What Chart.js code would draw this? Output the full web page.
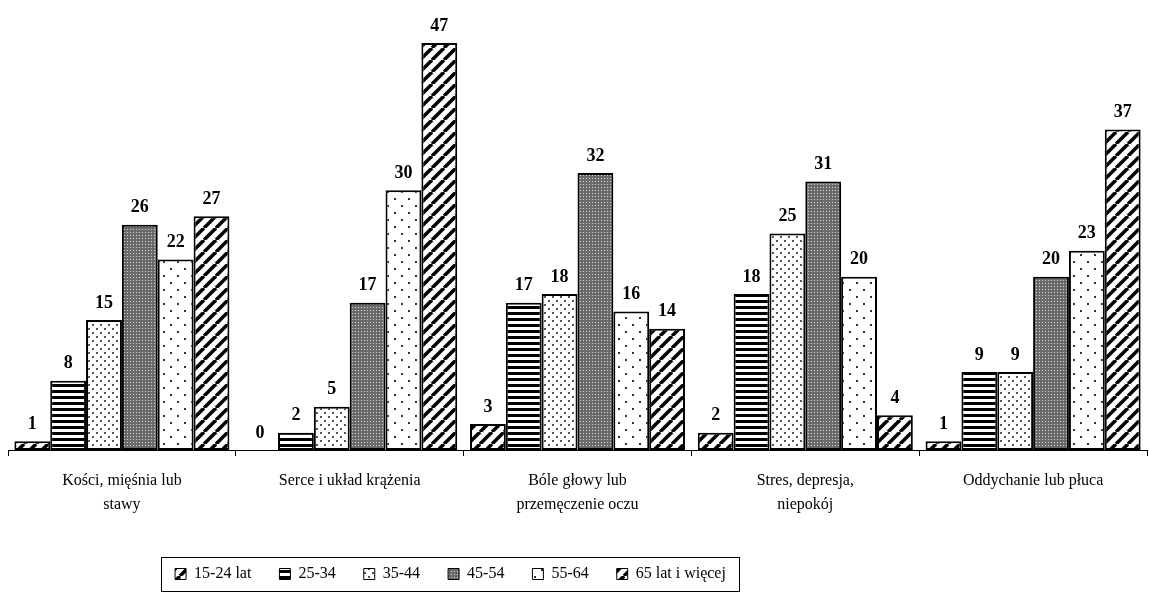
<!DOCTYPE html>
<html>
<head>
<meta charset="utf-8">
<script src="https://cdn.jsdelivr.net/npm/chart.js@4"></script>
<style>
  body { margin: 0; background: #fff; }
  #wrap { width: 1149px; height: 595px; position: relative; }
</style>
</head>
<body>
<div id="wrap"><canvas id="chart"></canvas></div>
<script>
// categories and series
const categories = [
    ['Kości, mięśnia lub', 'stawy'],
    'Serce i układ krążenia',
    ['Bóle głowy lub', 'przemęczenie oczu'],
    ['Stres, depresja,', 'niepokój'],
    'Oddychanie lub płuca'
];
const seriesNames = ['15-24 lat', '25-34', '35-44', '45-54', '55-64', '65 lat i więcej'];
const age15to24 = [1, 0, 3, 2, 1];
const age25to34 = [8, 2, 17, 18, 9];
const age35to44 = [15, 5, 18, 25, 9];
const age45to54 = [26, 17, 32, 31, 20];
const age55to64 = [22, 30, 16, 20, 23];
const age65plus = [27, 47, 14, 4, 37];

const FONT = "'Liberation Serif', 'Times New Roman', serif";
Chart.defaults.font.family = FONT;
Chart.defaults.color = '#000';

function makeTile(size, paint) {
    const c = document.createElement('canvas');
    c.width = size; c.height = size;
    const g = c.getContext('2d');
    g.fillStyle = '#fff';
    g.fillRect(0, 0, size, size);
    paint(g, size);
    return document.getElementById('chart').getContext('2d').createPattern(c, 'repeat');
}

function diagonalPattern() {
    return makeTile(12, function(g, s) {
        g.strokeStyle = '#000';
        g.lineWidth = 3.5;
        for (let k = -1; k <= 1; k++) {
            g.beginPath();
            g.moveTo(k * s, s);
            g.lineTo(k * s + s, 0);
            g.stroke();
        }
    });
}

function horizontalPattern() {
    return makeTile(6, function(g, s) {
        g.fillStyle = '#000';
        g.fillRect(0, 0, s, 3);
    });
}

function smallDotsPattern() {
    return makeTile(8, function(g) {
        g.fillStyle = '#555';
        g.fillRect(0, 0, 2, 2);
        g.fillRect(4, 4, 2, 2);
    });
}

function meshPattern() {
    return makeTile(3, function(g) {
        g.fillStyle = '#6a6a6a';
        g.fillRect(0, 0, 3, 3);
        g.fillStyle = '#d8d8d8';
        g.fillRect(1, 1, 1, 1);
    });
}

function sparseDotsPattern() {
    return makeTile(14, function(g) {
        g.fillStyle = '#333';
        g.fillRect(2, 2, 2, 2);
        g.fillRect(9, 9, 2, 2);
    });
}

const fills = [diagonalPattern(), horizontalPattern(), smallDotsPattern(), meshPattern(), sparseDotsPattern(), diagonalPattern()];
const values = [age15to24, age25to34, age35to44, age45to54, age55to64, age65plus];

const datasets = seriesNames.map(function(name, i) {
    return {
        label: name,
        data: values[i],
        backgroundColor: fills[i],
        borderColor: '#000',
        borderWidth: 2,
        borderSkipped: false,
        categoryPercentage: 0.944,
        barPercentage: 1.0
    };
});

// numbers above the bars
const valueLabels = {
    id: 'valueLabels',
    afterDatasetsDraw(chart) {
        const ctx = chart.ctx;
        ctx.save();
        ctx.font = 'bold 18px ' + FONT;
        ctx.fillStyle = '#000';
        ctx.textAlign = 'center';
        ctx.textBaseline = 'middle';
        chart.data.datasets.forEach(function(ds, i) {
            chart.getDatasetMeta(i).data.forEach(function(bar, j) {
                ctx.fillText(String(ds.data[j]), bar.x, bar.y - 17);
            });
        });
        ctx.restore();
    }
};

// move legend left like the original and put a frame round it
const legendFrame = {
    id: 'legendFrame',
    afterLayout(chart) {
        const lg = chart.legend;
        lg.left -= 127;
        lg.right -= 127;
    },
    afterDraw(chart) {
        const boxes = chart.legend.legendHitBoxes;
        if (!boxes || !boxes.length) return;
        let l = Infinity, r = -Infinity, t = Infinity, b = -Infinity;
        boxes.forEach(function(h) {
            l = Math.min(l, h.left); r = Math.max(r, h.left + h.width);
            t = Math.min(t, h.top); b = Math.max(b, h.top + h.height);
        });
        const ctx = chart.ctx;
        ctx.save();
        ctx.strokeStyle = '#000';
        ctx.lineWidth = 1;
        ctx.strokeRect(Math.round(l - 14) + 0.5, Math.round(t - 9) + 0.5, Math.round(r - l + 27), Math.round(b - t + 18));
        ctx.restore();
    }
};

new Chart(document.getElementById('chart'), {
    type: 'bar',
    data: { labels: categories, datasets: datasets },
    options: {
        responsive: true,
        maintainAspectRatio: false,
        animation: false,
        layout: { padding: { top: 17, left: 8, right: 2, bottom: 3 } },
        scales: {
            x: {
                offset: true,
                grid: { display: true, drawOnChartArea: false, drawTicks: true, tickLength: 6, color: '#000', offset: true },
                border: { display: true, color: '#000', width: 1 },
                ticks: { font: { size: 16, lineHeight: 1.5 }, color: '#000', padding: 13, maxRotation: 0, autoSkip: false },
                afterFit(scale) { scale.height += 8; }
            },
            y: { display: false, min: 0, max: 50 }
        },
        plugins: {
            legend: {
                position: 'bottom',
                labels: {
                    font: { size: 16 },
                    color: '#000',
                    boxWidth: 11,
                    boxHeight: 11,
                    padding: 28,
                    generateLabels(chart) {
                        const items = Chart.defaults.plugins.legend.labels.generateLabels(chart);
                        items.forEach(function(it) { it.lineWidth = 1; });
                        return items;
                    }
                }
            },
            tooltip: { enabled: false },
            title: { display: false }
        }
    },
    plugins: [valueLabels, legendFrame]
});
</script>
</body>
</html>
